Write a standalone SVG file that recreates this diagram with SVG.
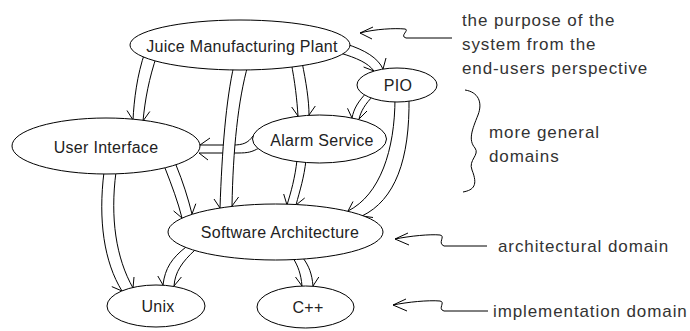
<svg xmlns="http://www.w3.org/2000/svg" width="690" height="331" viewBox="0 0 690 331">
<style>
  .ln { fill: none; stroke: #000; stroke-width: 1; }
  .band { fill: #fff; stroke: none; }
  .node ellipse { fill: #fff; stroke: #000; stroke-width: 1; }
  .node text { font-family: "Liberation Sans", Arial, sans-serif; font-size: 16px; letter-spacing: 0.3px; fill: #222; text-anchor: middle; }
  .note { font-family: "Liberation Sans", Arial, sans-serif; font-size: 17px; letter-spacing: 0.9px; fill: #333; }
  .ann { fill: none; stroke: #000; stroke-width: 1; }
</style>
<rect width="690" height="331" fill="#fff"/>

<g id="connectors">
  <!-- Alarm Service -> User Interface -->
  <g id="c-alarm-ui">
    <path class="ln" d="M 253 136 C 248 143, 243 145, 233 145 L 200 145"/>
    <path class="ln" d="M 259 148 C 252 152, 248 153, 238 153 L 199 153"/>
    <path class="ln" d="M 200 145 L 210 138 M 199 153 L 208 160"/>
  </g>
  <!-- JMP -> Software Architecture (drawn over crossing) -->
  <g id="c-jmp-sa">
    <path class="band" d="M 234 65 C 226 100, 222 150, 220 208 L 232 206 C 233 150, 238 100, 248 65 Z"/>
    <path class="ln" d="M 234 65 C 226 100, 222 150, 220 208"/>
    <path class="ln" d="M 248 65 C 238 100, 233 150, 232 206"/>
    <path class="ln" d="M 220 208 L 214 199 M 232 206 L 238.6 197"/>
  </g>
  <!-- JMP -> User Interface -->
  <g id="c-jmp-ui">
    <path class="ln" d="M 145 52 C 137 75, 134 100, 133 120"/>
    <path class="ln" d="M 157 55 C 149 78, 145 100, 143 121"/>
    <path class="ln" d="M 133 120 L 127 110.5 M 143 121 L 149.8 111.5"/>
  </g>
  <!-- JMP -> Alarm Service -->
  <g id="c-jmp-alarm">
    <path class="ln" d="M 291 62 C 295 82, 297 100, 298 116"/>
    <path class="ln" d="M 302 62 C 306 82, 309 100, 309 115"/>
    <path class="ln" d="M 298 116 L 291.7 107 M 309 115 L 315.3 106"/>
  </g>
  <!-- JMP -> PIO -->
  <g id="c-jmp-pio">
    <path class="ln" d="M 346 44 C 365 50, 378 58, 383 69"/>
    <path class="ln" d="M 340 53 C 357 58, 368 63, 374 71"/>
    <path class="ln" d="M 383 69 L 386 58 M 374 71 L 363.6 67"/>
  </g>
  <!-- PIO -> Alarm Service -->
  <g id="c-pio-alarm">
    <path class="ln" d="M 367 92 C 358 102, 354 108, 352 118"/>
    <path class="ln" d="M 374 95 C 365 104, 361 111, 359 119"/>
    <path class="ln" d="M 352 118 L 347.5 108.3 M 359 119 L 367 111"/>
  </g>
  <!-- PIO -> Software Architecture -->
  <g id="c-pio-sa">
    <path class="ln" d="M 395 98 C 395 150, 380 195, 348 211"/>
    <path class="ln" d="M 409 97 C 410 160, 395 200, 362 216"/>
    <path class="ln" d="M 348 211 L 353 201.5 M 362 216 L 373 217.5"/>
  </g>
  <!-- Alarm Service -> Software Architecture -->
  <g id="c-alarm-sa">
    <path class="ln" d="M 297 160 C 295 178, 291 192, 287 205"/>
    <path class="ln" d="M 306 160 C 304 178, 300 190, 296 205"/>
    <path class="ln" d="M 287 205 L 283.7 194 M 296 205 L 304.7 198"/>
  </g>
  <!-- User Interface -> Software Architecture -->
  <g id="c-ui-sa">
    <path class="ln" d="M 165 168 C 172 186, 178 202, 182 218"/>
    <path class="ln" d="M 176 165 C 183 182, 188 198, 192 214"/>
    <path class="ln" d="M 182 218 L 173.6 210.9 M 192 214 L 195.8 203.7"/>
  </g>
  <!-- User Interface -> Unix -->
  <g id="c-ui-unix">
    <path class="ln" d="M 104 172 C 98 220, 104 262, 122 291"/>
    <path class="ln" d="M 116 172 C 110 218, 116 258, 133 288"/>
    <path class="ln" d="M 122 291 L 111.8 286.6 M 133 288 L 134 277"/>
  </g>
  <!-- Software Architecture -> Unix -->
  <g id="c-sa-unix">
    <path class="ln" d="M 186 247 C 172 258, 165 268, 163 285"/>
    <path class="ln" d="M 195 250 C 182 262, 175 272, 174 286"/>
    <path class="ln" d="M 163 285 L 157.8 276 M 174 286 L 181.4 277"/>
  </g>
  <!-- Software Architecture -> C++ -->
  <g id="c-sa-cpp">
    <path class="ln" d="M 293 258 C 298 266, 301 274, 302 286"/>
    <path class="ln" d="M 303 258 C 309 266, 312 274, 313 286"/>
    <path class="ln" d="M 302 286 L 295.5 277 M 313 286 L 318.8 277"/>
  </g>
</g>

<g id="n-jmp" class="node">
  <ellipse cx="240" cy="45" rx="110" ry="25"/>
  <text x="242" y="52">Juice Manufacturing Plant</text>
</g>
<g id="n-pio" class="node">
  <ellipse cx="397" cy="85" rx="40" ry="17"/>
  <text x="398" y="91">PIO</text>
</g>
<g id="n-alarm" class="node">
  <ellipse cx="319.5" cy="139" rx="67" ry="24"/>
  <text x="322" y="146">Alarm Service</text>
</g>
<g id="n-ui" class="node">
  <ellipse cx="106" cy="146" rx="94" ry="28"/>
  <text x="106" y="153">User Interface</text>
</g>
<g id="n-sa" class="node">
  <ellipse cx="275.5" cy="232" rx="107.5" ry="28"/>
  <text x="280" y="238">Software Architecture</text>
</g>
<g id="n-unix" class="node">
  <ellipse cx="156" cy="306" rx="49" ry="21"/>
  <text x="158" y="312">Unix</text>
</g>
<g id="n-cpp" class="node">
  <ellipse cx="305.5" cy="307" rx="48.5" ry="21"/>
  <text x="308" y="313">C++</text>
</g>

<g id="annotations">
  <path class="ann" d="M 360 33 C 375 29, 395 28, 405 29 C 410 30, 399 36, 406 38 L 452 38"/>
  <path class="ann" d="M 373 27 L 360 33 L 372 39"/>
  <path class="ann" d="M 465 90 C 478 92, 483 102, 478 115 C 472 130, 468 140, 475 148 C 480 155, 468 160, 472 170 C 478 185, 474 190, 463 192"/>
  <path class="ann" d="M 395 239 C 410 236, 430 234, 440 235 C 446 236, 437 243, 444 246 L 487 246"/>
  <path class="ann" d="M 408 233 L 395 239 L 409 245"/>
  <path class="ann" d="M 393 305 C 408 302, 428 300, 440 301 C 446 302, 437 309, 444 311 L 488 311"/>
  <path class="ann" d="M 406 299 L 393 305 L 407 311"/>
  <text class="note" x="462" y="26">the purpose of the</text>
  <text class="note" x="462" y="50">system from the</text>
  <text class="note" x="462" y="74">end-users perspective</text>
  <text class="note" x="489" y="138">more general</text>
  <text class="note" x="489" y="162">domains</text>
  <text class="note" x="498" y="252">architectural domain</text>
  <text class="note" x="493" y="317">implementation domain</text>
</g>
</svg>
